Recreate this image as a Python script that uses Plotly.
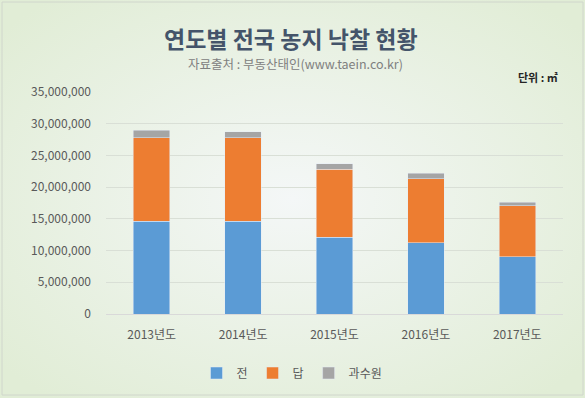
import plotly.graph_objects as go
import base64

years = ["2013년도", "2014년도", "2015년도", "2016년도", "2017년도"]
jeon = [14600000, 14600000, 12100000, 11200000, 9000000]
dap = [13200000, 13200000, 10700000, 10100000, 8100000]
orchard = [1200000, 900000, 900000, 900000, 500000]
tick_vals = [0, 5000000, 10000000, 15000000, 20000000, 25000000, 30000000, 35000000]
tick_text = ["0", "5,000,000", "10,000,000", "15,000,000", "20,000,000", "25,000,000", "30,000,000", "35,000,000"]

FONT = "Noto Sans CJK KR, Open Sans, sans-serif"
W, H = 585, 398
ML, MR, MT, MB = 106, 22, 92, 84
PW, PH = W - ML - MR, H - MT - MB

svg = ('<svg xmlns="http://www.w3.org/2000/svg" width="585" height="398">'
       '<defs><radialGradient id="g" cx="50%" cy="50%" r="65%">'
       '<stop offset="0%" stop-color="#f4f7f7"/>'
       '<stop offset="100%" stop-color="#e1edd6"/></radialGradient></defs>'
       '<rect width="585" height="398" fill="url(#g)"/></svg>')
bg_uri = "data:image/svg+xml;base64," + base64.b64encode(svg.encode()).decode()

def px(x):
    return (x - ML) / PW

def py(y):
    return (H - MB - y) / PH

fig = go.Figure()
fig.add_trace(go.Bar(name="전", x=years, y=jeon, marker_color="#5b9bd5"))
fig.add_trace(go.Bar(name="답", x=years, y=dap, marker_color="#ed7d31"))
fig.add_trace(go.Bar(name="과수원", x=years, y=orchard, marker_color="#a5a5a5"))

fig.update_layout(
    width=W, height=H,
    barmode="stack", bargap=0.6,
    paper_bgcolor="#e6efde", plot_bgcolor="rgba(0,0,0,0)",
    margin=dict(l=ML, r=MR, t=MT, b=MB, autoexpand=False),
    font=dict(family=FONT, size=12, color="#595959"),
    showlegend=True,
    legend=dict(orientation="h", x=px(292), xanchor="center", y=py(373), yanchor="middle",
                font=dict(size=12, color="#595959"), itemwidth=30,
                bgcolor="rgba(0,0,0,0)", traceorder="normal"),
    xaxis=dict(showgrid=False, showline=True, linecolor="#d9d9d9", linewidth=1,
               ticks="", ticklabelstandoff=10, tickfont=dict(size=12, color="#595959")),
    yaxis=dict(range=[0, 35000000], tickvals=tick_vals, ticktext=tick_text,
               showgrid=True, gridcolor="#d9dfd6", gridwidth=1, zeroline=False,
               ticks="", ticklabelstandoff=14, tickfont=dict(size=12, color="#595959")),
    images=[dict(source=bg_uri, xref="paper", yref="paper", x=px(0), y=py(0),
                 sizex=W / PW, sizey=H / PH,
                 xanchor="left", yanchor="top", layer="below", sizing="stretch")],
    annotations=[
        dict(text="<b>연도별 전국 농지 낙찰 현황</b>", xref="paper", yref="paper",
             x=px(291), y=py(38), showarrow=False, xanchor="center", yanchor="middle",
             font=dict(size=23, color="#44546a", family=FONT)),
        dict(text="자료출처 : 부동산태인(www.taein.co.kr)", xref="paper", yref="paper",
             x=px(295), y=py(63), showarrow=False, xanchor="center", yanchor="middle",
             font=dict(size=12.5, color="#808080", family=FONT)),
        dict(text="<b>단위 : ㎡</b>", xref="paper", yref="paper",
             x=px(560), y=py(77), showarrow=False, xanchor="right", yanchor="middle",
             font=dict(size=11, color="#262626", family=FONT)),
    ],
    shapes=[dict(type="rect", xref="paper", yref="paper", x0=px(2), y0=py(395),
                 x1=px(583), y1=py(2), line=dict(width=1, color="#d0d6cc"), layer="below")],
)

fig.write_html("out.html", config={"displayModeBar": False},
               post_script="document.body.style.margin='0';")
